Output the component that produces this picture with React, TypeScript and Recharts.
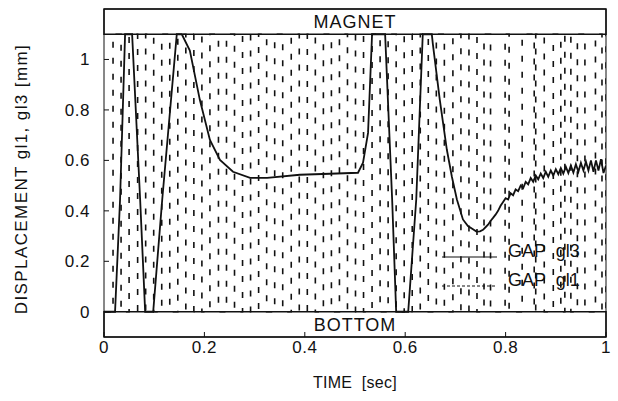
import React from 'react';
import { LineChart, Line, XAxis, YAxis, ReferenceArea, Legend } from 'recharts';

// GAP gl1: fast oscillation between bottom (0) and magnet (1.1)
const gl1Time = [
  0.002, 0.018, 0.034, 0.05, 0.067, 0.083, 0.099, 0.115, 0.131, 0.147, 0.163, 0.179, 0.195,
  0.211, 0.228, 0.244, 0.26, 0.276, 0.292, 0.308, 0.324, 0.34, 0.356, 0.373, 0.389, 0.405,
  0.421, 0.437, 0.453, 0.469, 0.485, 0.501, 0.517, 0.534, 0.55, 0.566, 0.582, 0.598, 0.614,
  0.63, 0.646, 0.662, 0.678, 0.695, 0.711, 0.727, 0.743, 0.757, 0.77, 0.799, 0.807, 0.833,
  0.857, 0.86, 0.877, 0.895, 0.91, 0.918, 0.93, 0.943, 0.958, 0.979, 0.992, 1.0,
];
const gl1Value = [
  0, 1.1, 0, 1.1, 0, 1.1, 0, 1.1, 0, 1.1, 0, 1.1, 0,
  1.1, 0, 1.1, 0, 1.1, 0, 1.1, 0, 1.1, 0, 1.1, 0, 1.1,
  0, 1.1, 0, 1.1, 0, 1.1, 0, 1.1, 0, 1.1, 0, 1.1, 0,
  1.1, 0, 1.1, 0, 1.1, 0, 1.1, 0, 1.1, 0, 1.1, 0, 1.1,
  0, 1.1, 0, 1.1, 0, 1.1, 0, 1.1, 0, 1.1, 0, 1.1,
];

// GAP gl3
const gl3Time = [
  0, 0.022, 0.032, 0.042, 0.056, 0.072, 0.082, 0.098, 0.116, 0.145, 0.155, 0.171, 0.191,
  0.211, 0.231, 0.257, 0.291, 0.325, 0.39, 0.45, 0.506, 0.516, 0.526, 0.534, 0.56, 0.574,
  0.582, 0.606, 0.622, 0.635, 0.653, 0.655, 0.669, 0.683, 0.693, 0.703, 0.715, 0.725, 0.735,
  0.742, 0.749, 0.755, 0.76, 0.765, 0.77, 0.775, 0.78, 0.785, 0.79, 0.795, 0.8, 0.805, 0.81,
  0.815, 0.82, 0.825, 0.83, 0.835, 0.84, 0.845, 0.85, 0.855, 0.86, 0.865, 0.87, 0.875, 0.88,
  0.885, 0.89, 0.895, 0.9, 0.905, 0.91, 0.915, 0.92, 0.925, 0.93, 0.935, 0.94, 0.945, 0.95,
  0.955, 0.96, 0.965, 0.97, 0.975, 0.98, 0.985, 0.99, 0.995, 1.0,
];
const gl3Value = [
  0, 0, 0.445, 1.1, 1.1, 0.445, 0, 0, 0.445, 1.1, 1.1, 1.035, 0.839,
  0.681, 0.602, 0.555, 0.531, 0.531, 0.543, 0.547, 0.551, 0.591, 0.709, 1.1, 1.1, 0.445,
  0, 0, 0.445, 1.1, 1.1, 1.063, 0.839, 0.642, 0.535, 0.445, 0.366, 0.34, 0.327,
  0.318, 0.319, 0.325, 0.335, 0.345, 0.36, 0.372, 0.385, 0.4, 0.42, 0.435, 0.45, 0.445, 0.47,
  0.462, 0.485, 0.478, 0.5, 0.49, 0.515, 0.505, 0.53, 0.515, 0.54, 0.525, 0.548, 0.53, 0.555,
  0.535, 0.56, 0.54, 0.565, 0.545, 0.57, 0.548, 0.575, 0.55, 0.58, 0.552, 0.585, 0.555, 0.59,
  0.56, 0.595, 0.56, 0.6, 0.555, 0.6, 0.56, 0.605, 0.55, 0.58,
];

const xTicks = [0, 0.2, 0.4, 0.6, 0.8, 1];
const yTicks = [0, 0.2, 0.4, 0.6, 0.8, 1];
const magnetBand = [1.1, 1.2];
const bottomBand = [-0.1, 0];

const gl1Data = gl1Time.map((t, i) => ({ t, v: gl1Value[i] }));
const gl3Data = gl3Time.map((t, i) => ({ t, v: gl3Value[i] }));

const FONT = '"Liberation Sans", Arial, sans-serif';
const INK = '#111';

const XTitle = (props: any) => {
  const vb = props.viewBox;
  return (
    <text x={vb.x + vb.width / 2} y={vb.y + 51} textAnchor="middle" fontSize={16} fill={INK}
      style={{ whiteSpace: 'pre', letterSpacing: 0.3 }}>
      TIME  [sec]
    </text>
  );
};

const YTitle = (props: any) => {
  const vb = props.viewBox;
  const cx = vb.x + 21;
  const cy = vb.y + vb.height / 2 + 6;
  return (
    <text x={cx} y={cy} transform={`rotate(-90 ${cx} ${cy})`} textAnchor="middle"
      dominantBaseline="central" fontSize={17} fill={INK} style={{ letterSpacing: 1.4 }}>
      DISPLACEMENT gl1, gl3 [mm]
    </text>
  );
};

const GapLegend = () => (
  <svg width={160} height={50} style={{ display: 'block', overflow: 'visible' }}>
    <line x1={2} y1={12} x2={57} y2={12} stroke={INK} strokeWidth={1.2} />
    <text x={68} y={12} fontSize={18} fill={INK} style={{ whiteSpace: 'pre', fontFamily: FONT }}>GAP  gl3</text>
    <line x1={2} y1={41} x2={57} y2={41} stroke={INK} strokeWidth={1} strokeDasharray="3 2" />
    <text x={68} y={41} fontSize={18} fill={INK} style={{ whiteSpace: 'pre', fontFamily: FONT }}>GAP  gl1</text>
  </svg>
);

export default function App() {
  return (
    <div style={{ position: 'absolute', left: 0, top: 0, background: '#fff' }}>
      <LineChart width={618} height={401} margin={{ top: 8, right: 11, bottom: 0, left: 0 }}
        style={{ fontFamily: FONT }}>
        <XAxis xAxisId="b" type="number" dataKey="t" domain={[0, 1]} ticks={xTicks} allowDataOverflow
          height={64} tickSize={-5} tickMargin={9} stroke={INK}
          tick={{ fill: INK, fontSize: 17, style: { letterSpacing: 0.5 } }}
          label={<XTitle />} />
        <XAxis xAxisId="top" orientation="top" type="number" domain={[0, 1]} ticks={xTicks}
          height={1} tickSize={-5} tick={false} stroke={INK} />
        <YAxis yAxisId="l" type="number" domain={[-0.1, 1.2]} ticks={yTicks} allowDataOverflow
          width={104} tickSize={-5} tickMargin={19} stroke={INK}
          tick={{ fill: INK, fontSize: 17, style: { letterSpacing: 0.5 } }}
          label={<YTitle />} />
        <YAxis yAxisId="r" orientation="right" type="number" domain={[-0.1, 1.2]} ticks={yTicks}
          width={1} tickSize={-5} tick={false} stroke={INK} />
        <ReferenceArea xAxisId="b" yAxisId="l" x1={0} x2={1} y1={magnetBand[0]} y2={magnetBand[1]}
          fill="#fff" fillOpacity={1} stroke={INK} strokeWidth={1.5}
          label={{ value: 'MAGNET', position: 'center', fill: INK, fontSize: 18, style: { letterSpacing: 1 } }} />
        <ReferenceArea xAxisId="b" yAxisId="l" x1={0} x2={1} y1={bottomBand[0]} y2={bottomBand[1]}
          fill="#fff" fillOpacity={1} stroke={INK} strokeWidth={1.5}
          label={{ value: 'BOTTOM', position: 'center', fill: INK, fontSize: 18, style: { letterSpacing: 1 } }} />
        <Line xAxisId="b" yAxisId="l" data={gl1Data} dataKey="v" name="GAP gl1" type="stepAfter"
          stroke={INK} strokeWidth={1.6} strokeDasharray="6 10" dot={false} isAnimationActive={false} />
        <Line xAxisId="b" yAxisId="l" data={gl3Data} dataKey="v" name="GAP gl3" type="linear"
          stroke={INK} strokeWidth={1.8} dot={false} isAnimationActive={false} />
        <Legend content={<GapLegend />} layout="horizontal" verticalAlign="middle" align="center"
          wrapperStyle={{ position: 'absolute', left: 440, top: 245, width: 160, height: 50 }} />
      </LineChart>
    </div>
  );
}
